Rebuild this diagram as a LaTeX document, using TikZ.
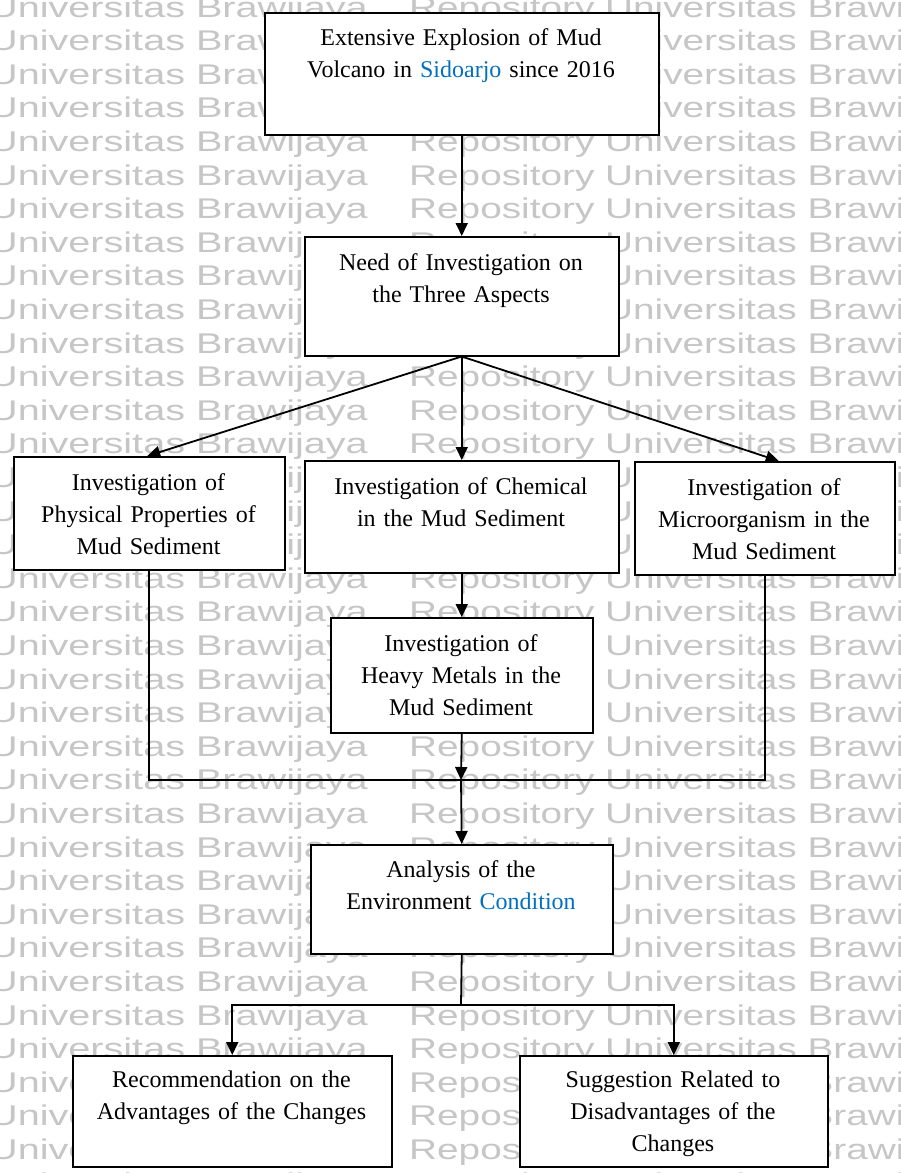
\documentclass[tikz,border=0pt]{standalone}
\usepackage{fontspec}
\setmainfont{Liberation Serif}
\newfontfamily\wmfont{Liberation Sans}
\usetikzlibrary{arrows.meta}
\definecolor{lnkblue}{RGB}{0,112,192}
\definecolor{wmgray}{RGB}{198,198,198}
\tikzset{
  boxnode/.style={draw=black, line width=1.5pt, fill=white, inner sep=0pt, anchor=north west},
  txtnode/.style={font=\fontsize{24}{32}\selectfont, align=center, inner sep=0pt, anchor=base},
  conn/.style={line width=1.8pt, -{Triangle[length=13pt,width=12pt]}},
  plainconn/.style={line width=1.8pt},
  wm/.style={font=\wmfont\fontsize{28.5}{30}\selectfont, text=wmgray, inner sep=0pt, anchor=base west}
}
\begin{document}
\begin{tikzpicture}[x=1pt,y=-1pt]
\useasboundingbox (0,0) rectangle (900,1173);
\clip (0,0) rectangle (900,1173);
\fill[white] (0,0) rectangle (900,1173);
% watermark
\foreach \k in {0,...,35}{
  \node[wm] (wmL\k) at (-11,{17+33.6*\k}) {\scalebox{1.39}[1]{Universitas Brawijaya}};
  \node[wm] (wmR\k) at (409,{17+33.6*\k}) {\scalebox{1.36}[1]{Repository Universitas Brawijaya}};
}
% boxes
\node[boxnode, minimum width=394pt, minimum height=122pt] (b1) at (264,12) {};
\node[boxnode, minimum width=314pt, minimum height=119pt] (b2) at (304,236) {};
\node[boxnode, minimum width=271pt, minimum height=113pt] (b3) at (13,456) {};
\node[boxnode, minimum width=314pt, minimum height=112pt] (b4) at (304,460) {};
\node[boxnode, minimum width=260pt, minimum height=113pt] (b5) at (634,461) {};
\node[boxnode, minimum width=262pt, minimum height=115pt] (b6) at (330,617) {};
\node[boxnode, minimum width=302pt, minimum height=109pt] (b7) at (310,844) {};
\node[boxnode, minimum width=319pt, minimum height=111pt] (b8) at (72,1055) {};
\node[boxnode, minimum width=308pt, minimum height=111pt] (b9) at (519,1055) {};
% texts
\node[txtnode, text width=380pt] (t1) at (461,45) {Extensive Explosion of Mud\\Volcano in \textcolor{lnkblue}{Sidoarjo} since 2016};
\node[txtnode, text width=300pt] (t2) at (461,270) {Need of Investigation on\\the Three Aspects};
\node[txtnode, text width=260pt] (t3) at (148.5,490) {Investigation of\\Physical Properties of\\Mud Sediment};
\node[txtnode, text width=300pt] (t4) at (461,494) {Investigation of Chemical\\in the Mud Sediment};
\node[txtnode, text width=250pt] (t5) at (764,495) {Investigation of\\Microorganism in the\\Mud Sediment};
\node[txtnode, text width=250pt] (t6) at (461,651) {Investigation of\\Heavy Metals in the\\Mud Sediment};
\node[txtnode, text width=290pt] (t7) at (461,877) {Analysis of the\\Environment \textcolor{lnkblue}{Condition}};
\node[txtnode, text width=310pt] (t8) at (231.5,1087) {Recommendation on the\\Advantages of the Changes};
\node[txtnode, text width=300pt] (t9) at (673,1087) {Suggestion Related to\\Disadvantages of the\\Changes};
% junctions
\coordinate (j1) at (461,780);
\coordinate (j2) at (461,1005);
% connectors
\draw[conn] (b1.south) -- (b2.north);
\draw[conn] (b2.south) -- ([xshift=-2pt]b3.north);
\draw[conn] (b2.south) -- (b4.north);
\draw[conn] (b2.south) -- ([xshift=14pt]b5.north);
\draw[conn] (b4.south) -- (b6.north);
\draw[plainconn] (b3.south) |- (j1) -| (b5.south);
\draw[conn] (b6.south) -- (j1);
\draw[conn] (j1) -- (b7.north);
\draw[plainconn] (b7.south) -- (j2);
\draw[conn] (j2) -| (b8.north);
\draw[conn] (j2) -| (b9.north);
\end{tikzpicture}
\end{document}
